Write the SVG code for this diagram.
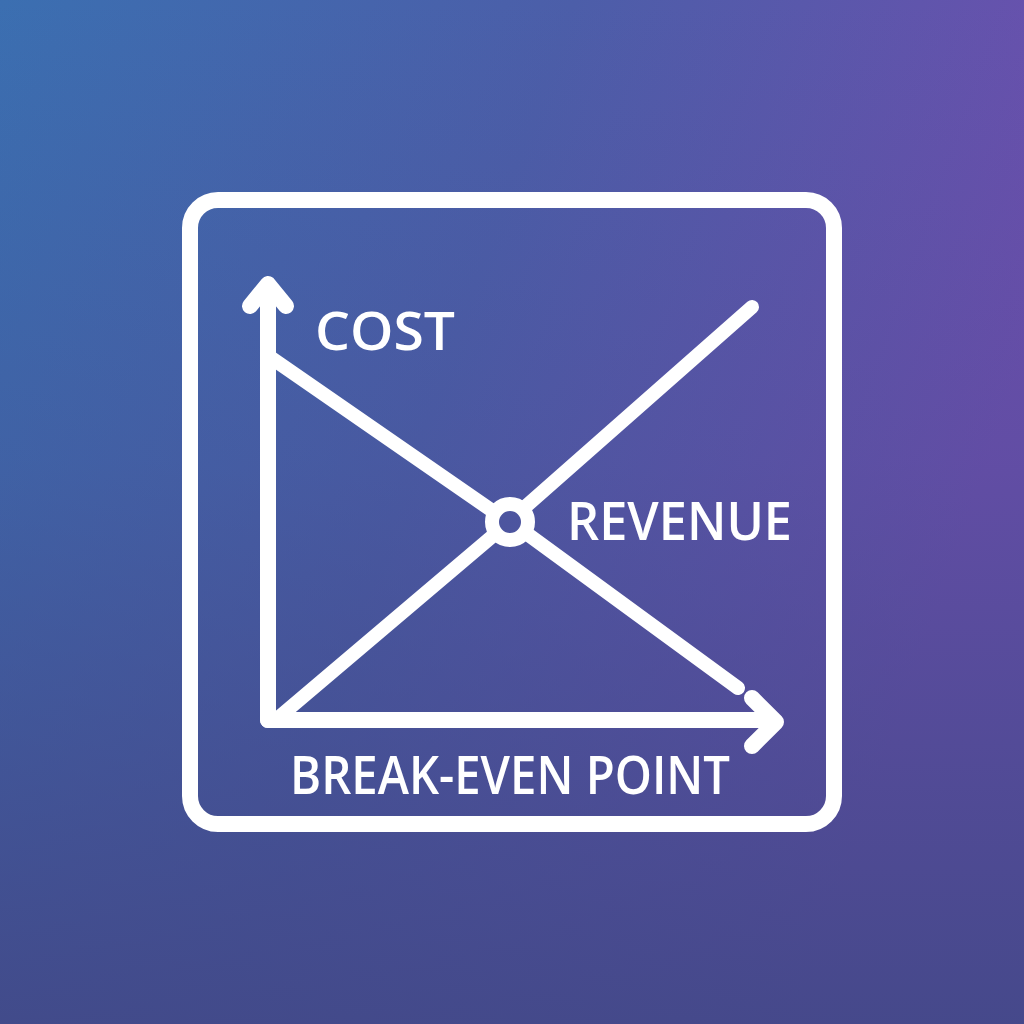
<svg xmlns="http://www.w3.org/2000/svg" width="1024" height="1024" viewBox="0 0 1024 1024">
  <defs>
    <linearGradient id="bgH" x1="0" y1="0" x2="1" y2="0.35">
      <stop offset="0" stop-color="#3b6fb1"/>
      <stop offset="0.5" stop-color="#4c5ea9"/>
      <stop offset="1" stop-color="#6d4fae"/>
    </linearGradient>
    <linearGradient id="bgV" x1="0" y1="0" x2="0" y2="1">
      <stop offset="0" stop-color="#3f4888" stop-opacity="0"/>
      <stop offset="0.45" stop-color="#3f4888" stop-opacity="0.25"/>
      <stop offset="1" stop-color="#414887" stop-opacity="0.9"/>
    </linearGradient>
    <style>
      .w { fill: none; stroke: #ffffff; stroke-linecap: round; stroke-linejoin: round; }
      .lbl { fill: #ffffff; font-family: "Open Sans", "DejaVu Sans", sans-serif; font-weight: 600; }
    </style>
  </defs>
  <rect x="0" y="0" width="1024" height="1024" fill="url(#bgH)"/>
  <rect x="0" y="0" width="1024" height="1024" fill="url(#bgV)"/>

  <g id="frame">
    <rect class="w" x="190" y="200" width="644" height="624" rx="28" stroke-width="16"/>
  </g>

  <g id="connectors">
    <path class="w" stroke-width="16" d="M268 720 V286 M250 306 L268 284 L286 306"/>
    <path class="w" stroke-width="16" d="M268 720 H774 M752 698 L776 722 L752 746"/>
    <path class="w" stroke-width="14" d="M270 357 L494 512 M526 533 L738 688"/>
    <path class="w" stroke-width="14" d="M278 718 L495 534 M524 508 L752 307"/>
  </g>

  <g id="break-even-marker">
    <circle class="w" cx="510" cy="522" r="18" stroke-width="14"/>
  </g>

  <g id="label-cost">
    <text class="lbl" x="315" y="350" font-size="53" textLength="140" lengthAdjust="spacingAndGlyphs">COST</text>
  </g>
  <g id="label-revenue">
    <text class="lbl" x="567" y="540" font-size="53" textLength="225" lengthAdjust="spacingAndGlyphs">REVENUE</text>
  </g>
  <g id="label-break-even">
    <text class="lbl" x="290" y="794" font-size="52" textLength="440" lengthAdjust="spacingAndGlyphs">BREAK-EVEN POINT</text>
  </g>
</svg>
